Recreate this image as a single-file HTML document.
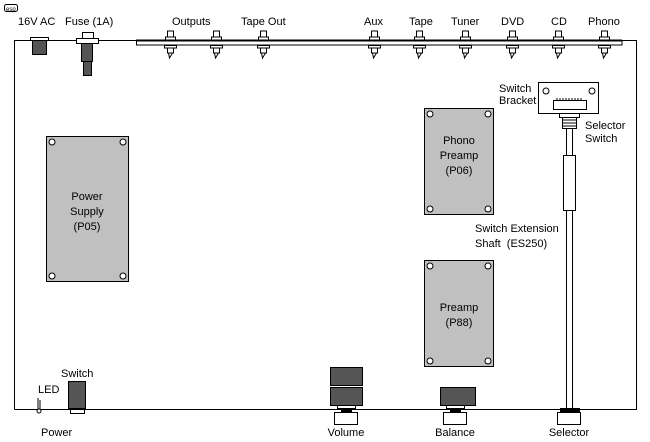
<!DOCTYPE html>
<html><head><style>
html,body{margin:0;padding:0;background:#fff}
svg{display:block}
text{font-family:"Liberation Sans",Arial,sans-serif;font-size:11px;fill:#000}
</style></head><body>
<svg width="650" height="442" viewBox="0 0 650 442" xmlns="http://www.w3.org/2000/svg">
<defs>
<g id="jack">
<rect x="-3" y="31" width="6" height="6" fill="#fff" stroke="#000"/>
<rect x="-5" y="37" width="10" height="3" fill="#fff" stroke="#000"/>
<rect x="-6" y="45.5" width="12" height="2.5" fill="#fff" stroke="#000"/>
<rect x="-3" y="48" width="6" height="5" fill="#fff" stroke="#000"/>
<path d="M-2 53 L-1 58 L2 53" fill="none" stroke="#000"/>
</g>
</defs>
<!-- logo -->
<rect x="4.5" y="4.5" width="13" height="7" rx="2" fill="none" stroke="#000"/>
<text x="6" y="11" style="font-size:6px">esp</text>
<!-- main box -->
<path d="M14.5 409.5 V40.5 H136 M622 40.5 H636.5 V409.5 H14.5" fill="none" stroke="#000"/>
<rect x="136.5" y="40.5" width="485.5" height="4.5" fill="#fff" stroke="#000"/>
<line x1="136" y1="40.5" x2="622" y2="40.5" stroke="#000" stroke-width="2"/>
<!-- labels top -->
<text x="18" y="25">16V AC</text>
<text x="65" y="25">Fuse (1A)</text>
<text x="172" y="25">Outputs</text>
<text x="241" y="25">Tape Out</text>
<text x="364" y="25">Aux</text>
<text x="409" y="25">Tape</text>
<text x="451" y="25">Tuner</text>
<text x="501" y="25">DVD</text>
<text x="551" y="25">CD</text>
<text x="588" y="25">Phono</text>
<use href="#jack" x="170.5"/><use href="#jack" x="216.5"/><use href="#jack" x="263.5"/>
<use href="#jack" x="374.5"/><use href="#jack" x="419.5"/><use href="#jack" x="465.5"/>
<use href="#jack" x="512.5"/><use href="#jack" x="558.5"/><use href="#jack" x="604.5"/>
<!-- 16V AC socket -->
<rect x="30.5" y="37.5" width="18" height="3" fill="#fff" stroke="#000"/>
<rect x="32.5" y="40.5" width="14" height="14" fill="#555" stroke="#000"/>
<!-- fuse -->
<rect x="82.5" y="32.5" width="11" height="6" fill="#fff" stroke="#000"/>
<rect x="76.5" y="38.5" width="22" height="5" fill="#fff" stroke="#000"/>
<rect x="81.5" y="43.5" width="11" height="18" fill="#555" stroke="#000"/>
<rect x="83.5" y="61.5" width="8" height="14" fill="#555" stroke="#000"/>
<!-- boards -->
<g fill="#c0c0c0" stroke="#000">
<rect x="46.5" y="136.5" width="82" height="145"/>
<rect x="424.5" y="108.5" width="69" height="106"/>
<rect x="424.5" y="260.5" width="69" height="106"/>
</g>
<g fill="#fff" stroke="#000">
<circle cx="52" cy="142" r="3"/><circle cx="123" cy="142" r="3"/><circle cx="52" cy="276" r="3"/><circle cx="123" cy="276" r="3"/>
<circle cx="430" cy="114" r="3"/><circle cx="488" cy="114" r="3"/><circle cx="430" cy="209" r="3"/><circle cx="488" cy="209" r="3"/>
<circle cx="430" cy="266" r="3"/><circle cx="488" cy="266" r="3"/><circle cx="430" cy="361" r="3"/><circle cx="488" cy="361" r="3"/>
</g>
<text x="87" y="200" text-anchor="middle">Power</text>
<text x="87" y="215" text-anchor="middle">Supply</text>
<text x="87" y="230" text-anchor="middle">(P05)</text>
<text x="459" y="144" text-anchor="middle">Phono</text>
<text x="459" y="159" text-anchor="middle">Preamp</text>
<text x="459" y="174" text-anchor="middle">(P06)</text>
<text x="459" y="311" text-anchor="middle">Preamp</text>
<text x="459" y="326" text-anchor="middle">(P88)</text>
<!-- switch bracket -->
<rect x="538.5" y="82.5" width="60" height="31" fill="#fff" stroke="#000"/>
<circle cx="546" cy="91" r="3" fill="#fff" stroke="#000"/>
<circle cx="592" cy="91" r="3" fill="#fff" stroke="#000"/>
<rect x="553.5" y="100.5" width="33" height="9" fill="#fff" stroke="#000"/>
<path d="M557 100.5 V98 M560 100.5 V98 M563 100.5 V98 M566 100.5 V98 M569 100.5 V98 M572 100.5 V98 M575 100.5 V98 M578 100.5 V98 M581 100.5 V98" stroke="#000"/>
<rect x="559.5" y="113.5" width="20" height="4" fill="#fff" stroke="#000"/>
<rect x="562.5" y="117.5" width="14" height="11" fill="#fff" stroke="#000"/>
<path d="M563 120 H576 M563 123 H576 M563 126 H576" stroke="#000"/>
<path d="M566.5 128 V409 M572.5 128 V409" stroke="#000"/>
<rect x="563.5" y="155.5" width="12" height="55" fill="#fff" stroke="#000"/>
<text x="499" y="92">Switch</text>
<text x="499" y="104">Bracket</text>
<text x="585" y="129">Selector</text>
<text x="585" y="142">Switch</text>
<text x="475" y="232">Switch Extension</text>
<text x="475" y="247">Shaft&#160;&#160;(ES250)</text>
<!-- bottom controls -->
<rect x="330.5" y="367.5" width="32" height="18" fill="#555" stroke="#000"/>
<rect x="330.5" y="387.5" width="32" height="18" fill="#555" stroke="#000"/>
<rect x="337.5" y="405.5" width="18" height="3" fill="#fff" stroke="#000"/>
<rect x="341" y="409" width="11" height="3" fill="#000"/>
<rect x="334.5" y="412.5" width="23" height="12" fill="#fff" stroke="#000"/>
<rect x="440.5" y="387.5" width="35" height="18" fill="#555" stroke="#000"/>
<rect x="446.5" y="405.5" width="18" height="3" fill="#fff" stroke="#000"/>
<rect x="450" y="409" width="11" height="3" fill="#000"/>
<rect x="443.5" y="412.5" width="23" height="12" fill="#fff" stroke="#000"/>
<rect x="560" y="408" width="20" height="4" fill="#000"/>
<rect x="557.5" y="412.5" width="23" height="12" fill="#fff" stroke="#000"/>
<text x="346" y="436" text-anchor="middle">Volume</text>
<text x="455" y="436" text-anchor="middle">Balance</text>
<text x="569" y="436" text-anchor="middle">Selector</text>
<!-- power switch -->
<rect x="68.5" y="381.5" width="17" height="27" fill="#555" stroke="#000"/>
<rect x="70.5" y="409.5" width="14" height="4" fill="#fff" stroke="#000"/>
<text x="61" y="377">Switch</text>
<text x="38" y="393">LED</text>
<path d="M38 398 V409 M40 400 V409" stroke="#000"/>
<circle cx="39" cy="411" r="2" fill="#fff" stroke="#000"/>
<text x="41" y="436">Power</text>
</svg>
</body></html>
